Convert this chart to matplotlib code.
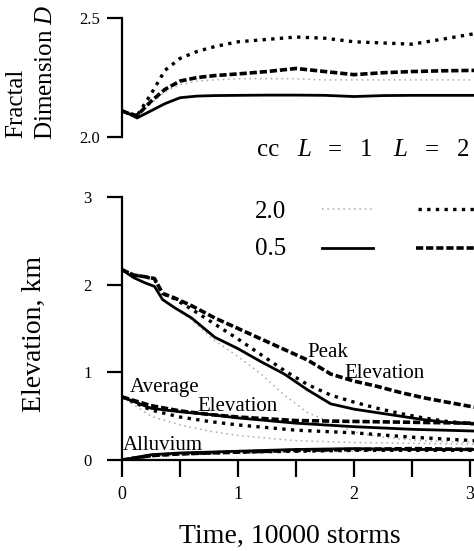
import matplotlib
matplotlib.use("Agg")
import matplotlib.pyplot as plt
from matplotlib.lines import Line2D

plt.rcParams['font.family'] = ['Liberation Serif', 'DejaVu Serif']
plt.rcParams['mathtext.fontset'] = 'custom'
plt.rcParams['mathtext.rm'] = 'Liberation Serif'
plt.rcParams['mathtext.it'] = 'Liberation Serif:italic'

W, H = 474, 551

# ---------------- data ----------------
# Top panel: fractal dimension D
t_frac = [0, 0.05, 0.13, 0.25, 0.37, 0.5, 0.65, 0.8, 1.0, 1.25, 1.5, 1.75, 2.0, 2.25, 2.5, 2.75, 3.05]
D_cc05_L1 = [2.11, 2.10, 2.08, 2.11, 2.14, 2.165, 2.172, 2.174, 2.175, 2.176, 2.176, 2.175, 2.170, 2.174, 2.175, 2.175, 2.175]
D_cc05_L2 = [2.11, 2.10, 2.09, 2.15, 2.20, 2.235, 2.25, 2.258, 2.265, 2.275, 2.288, 2.275, 2.262, 2.27, 2.275, 2.278, 2.28]
D_cc20_L2 = [2.11, 2.10, 2.09, 2.18, 2.28, 2.33, 2.36, 2.38, 2.40, 2.41, 2.42, 2.415, 2.40, 2.395, 2.39, 2.41, 2.435]
D_cc20_L1 = [2.11, 2.10, 2.09, 2.14, 2.19, 2.22, 2.235, 2.24, 2.245, 2.245, 2.245, 2.24, 2.24, 2.24, 2.24, 2.24, 2.24]

# Bottom panel: peak elevation (km)
t_peak = [0, 0.1, 0.2, 0.28, 0.35, 0.45, 0.6, 0.8, 1.0, 1.2, 1.4, 1.6, 1.8, 2.0, 2.2, 2.4, 2.6, 2.8, 3.05]
peak_cc05_L1 = [2.17, 2.08, 2.02, 1.98, 1.83, 1.74, 1.62, 1.40, 1.27, 1.12, 0.98, 0.80, 0.64, 0.58, 0.54, 0.50, 0.46, 0.43, 0.41]
peak_cc05_L2 = [2.17, 2.11, 2.09, 2.07, 1.90, 1.85, 1.76, 1.62, 1.50, 1.38, 1.26, 1.14, 0.98, 0.90, 0.84, 0.77, 0.71, 0.66, 0.60]
peak_cc20_L2 = [2.17, 2.11, 2.09, 2.06, 1.90, 1.84, 1.72, 1.55, 1.38, 1.20, 1.02, 0.86, 0.74, 0.66, 0.59, 0.53, 0.48, 0.44, 0.41]
peak_cc20_L1 = [2.17, 2.08, 2.02, 1.98, 1.83, 1.74, 1.60, 1.36, 1.18, 0.98, 0.74, 0.54, 0.43, 0.32, 0.27, 0.24, 0.22, 0.21, 0.20]

# Bottom panel: average elevation and alluvium (km)
t_avg = [0, 0.25, 0.5, 0.75, 1.0, 1.5, 2.0, 2.5, 3.05]
avg_cc05_L2 = [0.72, 0.62, 0.56, 0.52, 0.49, 0.45, 0.44, 0.43, 0.42]
avg_cc05_L1 = [0.72, 0.59, 0.55, 0.52, 0.48, 0.42, 0.38, 0.35, 0.33]
avg_cc20_L2 = [0.72, 0.57, 0.49, 0.44, 0.40, 0.34, 0.31, 0.26, 0.22]
avg_cc20_L1 = [0.72, 0.50, 0.40, 0.33, 0.28, 0.22, 0.20, 0.19, 0.18]
all_cc05_L1 = [0.00, 0.06, 0.08, 0.09, 0.10, 0.12, 0.13, 0.12, 0.12]
all_cc05_L2 = [0.00, 0.05, 0.07, 0.08, 0.09, 0.11, 0.12, 0.13, 0.12]
all_cc20_L2 = [0.00, 0.05, 0.07, 0.08, 0.09, 0.10, 0.11, 0.11, 0.11]
all_cc20_L1 = [0.00, 0.04, 0.06, 0.07, 0.08, 0.09, 0.10, 0.11, 0.11]

x_ticks = [0, 1, 2, 3]
x_minor = [0.5, 1.5, 2.5]
y_ticks_top = [2.0, 2.5]
y_ticks_bot = [0, 1, 2, 3]

# ---------------- styles ----------------
sty = {
    'cc05_L1': dict(color='black', lw=2.0, ls='-'),
    'cc05_L2': dict(color='black', lw=2.6, ls=(0, (2.0, 0.8))),
    'cc20_L2': dict(color='black', lw=2.4, ls=(0, (1.0, 1.6))),
    'cc20_L1': dict(color='#a8a8a8', lw=1.1, ls=(0, (1.0, 2.5))),
}

fig = plt.figure(figsize=(W / 100, H / 100), dpi=100)

def fx(px):
    return px / W

def fy(py):
    return 1 - py / H

x_left = 122
x_right = 474
tmax = (x_right - x_left) / 116.0

ax_top = fig.add_axes([fx(x_left), fy(137), fx(x_right) - fx(x_left), fy(18) - fy(137)])
ax_bot = fig.add_axes([fx(x_left), fy(460), fx(x_right) - fx(x_left), fy(197) - fy(460)])

for ax in (ax_top, ax_bot):
    ax.set_xlim(0, tmax)
    ax.spines['top'].set_visible(False)
    ax.spines['right'].set_visible(False)
    ax.spines['left'].set_linewidth(1.6)
    ax.spines['bottom'].set_linewidth(1.6)
    ax.patch.set_visible(False)

# top
ax_top.plot(t_frac, D_cc20_L1, **sty['cc20_L1'])
ax_top.plot(t_frac, D_cc05_L1, **sty['cc05_L1'])
ax_top.plot(t_frac, D_cc05_L2, **sty['cc05_L2'])
ax_top.plot(t_frac, D_cc20_L2, **sty['cc20_L2'])
ax_top.set_ylim(2.0, 2.5)
ax_top.spines['bottom'].set_visible(False)
ax_top.set_xticks([])
ax_top.set_yticks(y_ticks_top)
ax_top.set_yticklabels(['2.0', '2.5'])
ax_top.tick_params(axis='y', direction='out', length=11, width=1.6, pad=5, labelsize=12)

# bottom
for tt, series in ((t_peak, [peak_cc20_L1, peak_cc05_L1, peak_cc20_L2, peak_cc05_L2]),
                   (t_avg, [avg_cc20_L1, avg_cc05_L1, avg_cc20_L2, avg_cc05_L2]),
                   (t_avg, [all_cc20_L1, all_cc05_L1, all_cc20_L2, all_cc05_L2])):
    for vals, key in zip(series, ['cc20_L1', 'cc05_L1', 'cc20_L2', 'cc05_L2']):
        ax_bot.plot(tt, vals, **sty[key])

ax_bot.set_ylim(0, 3)
ax_bot.set_yticks(y_ticks_bot)
ax_bot.set_yticklabels([str(v) for v in y_ticks_bot])
ax_bot.set_xticks(x_ticks)
ax_bot.set_xticklabels([str(v) for v in x_ticks])
ax_bot.set_xticks(x_minor, minor=True)
ax_bot.tick_params(axis='y', direction='out', length=11, width=1.6, pad=11, labelsize=12)
ax_bot.tick_params(axis='x', which='both', direction='out', length=12, width=1.6, pad=7, labelsize=13)

# curve annotations
ann_fs = 15
ax_bot.text(1.60, 1.17, 'Peak', fontsize=ann_fs, ha='left', va='baseline')
ax_bot.text(1.92, 0.94, 'Elevation', fontsize=ann_fs, ha='left', va='baseline')
ax_bot.text(0.07, 0.77, 'Average', fontsize=ann_fs, ha='left', va='baseline')
ax_bot.text(0.65, 0.56, 'Elevation', fontsize=ann_fs, ha='left', va='baseline')
ax_bot.text(0.01, 0.11, 'Alluvium', fontsize=ann_fs, ha='left', va='baseline')

# axis labels
fig.text(fx(16), fy(138), 'Fractal', rotation=90, fontsize=18, ha='center', va='bottom')
fig.text(fx(46), fy(140), 'Dimension $D$', rotation=90, fontsize=18, ha='center', va='bottom')
fig.text(fx(34), fy(334), 'Elevation, km', rotation=90, fontsize=20, ha='center', va='center')
fig.text(fx(290), fy(536), 'Time, 10000 storms', fontsize=20, ha='center', va='center')

# legend table
lfs = 18
fig.text(fx(257), fy(156), 'cc', fontsize=lfs, ha='left', va='baseline')
fig.text(fx(297), fy(156), 'L', fontsize=lfs, ha='left', va='baseline', style='italic')
fig.text(fx(328), fy(156), '=', fontsize=lfs, ha='left', va='baseline')
fig.text(fx(360), fy(156), '1', fontsize=lfs, ha='left', va='baseline')
fig.text(fx(393), fy(156), 'L', fontsize=lfs, ha='left', va='baseline', style='italic')
fig.text(fx(425), fy(156), '=', fontsize=lfs, ha='left', va='baseline')
fig.text(fx(457), fy(156), '2', fontsize=lfs, ha='left', va='baseline')
fig.text(fx(255), fy(218), '2.0', fontsize=lfs, ha='left', va='baseline')
fig.text(fx(255), fy(255), '0.5', fontsize=lfs, ha='left', va='baseline')

def leg_line(x0, x1, y, key):
    fig.add_artist(Line2D([fx(x0), fx(x1)], [fy(y), fy(y)], transform=fig.transFigure, **sty[key]))

leg_line(322, 373, 209, 'cc20_L1')
leg_line(418, 474, 209, 'cc20_L2')
leg_line(322, 373, 248, 'cc05_L1')
leg_line(416, 474, 248, 'cc05_L2')

fig.savefig('out.png', dpi=100)
